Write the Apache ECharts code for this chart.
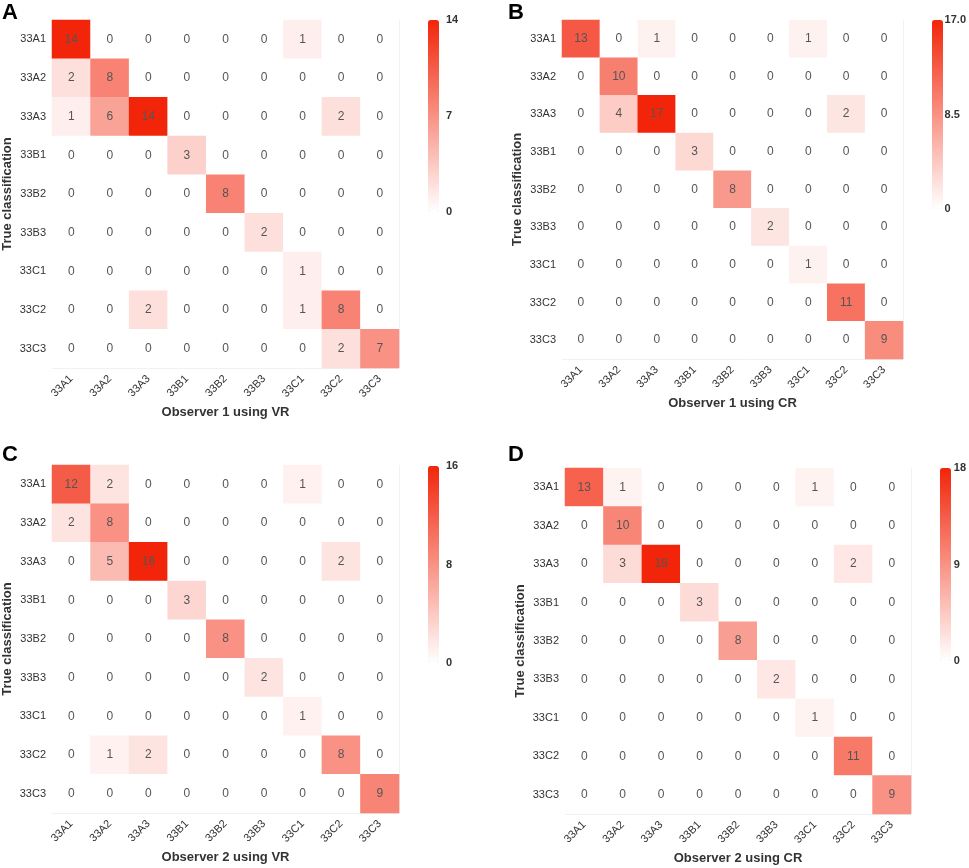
<!DOCTYPE html>
<html>
<head>
<meta charset="utf-8">
<script src="https://cdn.jsdelivr.net/npm/echarts@6/dist/echarts.min.js"></script>
<style>
  html, body { margin: 0; padding: 0; background: #fff; }
  #chart { width: 969px; height: 868px; }
</style>
</head>
<body>
<div id="chart"></div>
<script>
var classes = ['33A1', '33A2', '33A3', '33B1', '33B2', '33B3', '33C1', '33C2', '33C3'];

// rows = true classification, columns = observer
var obs1VR = [
  [14, 0, 0, 0, 0, 0, 1, 0, 0],
  [2, 8, 0, 0, 0, 0, 0, 0, 0],
  [1, 6, 14, 0, 0, 0, 0, 2, 0],
  [0, 0, 0, 3, 0, 0, 0, 0, 0],
  [0, 0, 0, 0, 8, 0, 0, 0, 0],
  [0, 0, 0, 0, 0, 2, 0, 0, 0],
  [0, 0, 0, 0, 0, 0, 1, 0, 0],
  [0, 0, 2, 0, 0, 0, 1, 8, 0],
  [0, 0, 0, 0, 0, 0, 0, 2, 7]
];
var obs1CR = [
  [13, 0, 1, 0, 0, 0, 1, 0, 0],
  [0, 10, 0, 0, 0, 0, 0, 0, 0],
  [0, 4, 17, 0, 0, 0, 0, 2, 0],
  [0, 0, 0, 3, 0, 0, 0, 0, 0],
  [0, 0, 0, 0, 8, 0, 0, 0, 0],
  [0, 0, 0, 0, 0, 2, 0, 0, 0],
  [0, 0, 0, 0, 0, 0, 1, 0, 0],
  [0, 0, 0, 0, 0, 0, 0, 11, 0],
  [0, 0, 0, 0, 0, 0, 0, 0, 9]
];
var obs2VR = [
  [12, 2, 0, 0, 0, 0, 1, 0, 0],
  [2, 8, 0, 0, 0, 0, 0, 0, 0],
  [0, 5, 16, 0, 0, 0, 0, 2, 0],
  [0, 0, 0, 3, 0, 0, 0, 0, 0],
  [0, 0, 0, 0, 8, 0, 0, 0, 0],
  [0, 0, 0, 0, 0, 2, 0, 0, 0],
  [0, 0, 0, 0, 0, 0, 1, 0, 0],
  [0, 1, 2, 0, 0, 0, 0, 8, 0],
  [0, 0, 0, 0, 0, 0, 0, 0, 9]
];
var obs2CR = [
  [13, 1, 0, 0, 0, 0, 1, 0, 0],
  [0, 10, 0, 0, 0, 0, 0, 0, 0],
  [0, 3, 18, 0, 0, 0, 0, 2, 0],
  [0, 0, 0, 3, 0, 0, 0, 0, 0],
  [0, 0, 0, 0, 8, 0, 0, 0, 0],
  [0, 0, 0, 0, 0, 2, 0, 0, 0],
  [0, 0, 0, 0, 0, 0, 1, 0, 0],
  [0, 0, 0, 0, 0, 0, 0, 11, 0],
  [0, 0, 0, 0, 0, 0, 0, 0, 9]
];

var letters = ['A', 'B', 'C', 'D'];
var xTitles = ['Observer 1 using VR', 'Observer 1 using CR', 'Observer 2 using VR', 'Observer 2 using CR'];
var scaleMax = [14, 17, 16, 18];
var scaleTicks = [['0', '7', '14'], ['0', '8.5', '17.0'], ['0', '8', '16'], ['0', '9', '18']];
var matrices = [obs1VR, obs1CR, obs2VR, obs2CR];

// layout of each panel: heatmap grid, colour bar, letter
var panels = [
  { grid: [52, 20, 347, 348], bar: [428, 20, 11, 192], letter: [2, 2] },
  { grid: [562, 20, 341, 339], bar: [932, 20, 11, 189], letter: [508, 2] },
  { grid: [52, 465, 347, 348], bar: [428, 466, 11, 197], letter: [2, 444] },
  { grid: [565, 468, 346, 346], bar: [940, 468, 11, 193], letter: [508, 444] }
];

var FONT = '"Liberation Sans", Arial, sans-serif';
var HIGH = '#F2250A';

var option = {
  animation: false,
  backgroundColor: '#fff',
  textStyle: { fontFamily: FONT },
  title: [], grid: [], xAxis: [], yAxis: [], visualMap: [], series: []
};

panels.forEach(function (p, i) {
  var data = [];
  matrices[i].forEach(function (row, r) {
    row.forEach(function (v, c) { data.push([c, r, v]); });
  });

  option.title.push({
    text: letters[i], left: p.letter[0], top: p.letter[1], padding: 0,
    textStyle: { fontSize: 22, fontWeight: 'bold', color: '#000', fontFamily: FONT }
  });

  // heatmap grid
  option.grid.push({ left: p.grid[0], top: p.grid[1], width: p.grid[2], height: p.grid[3] });
  option.xAxis.push({
    type: 'category', gridIndex: 2 * i, data: classes,
    name: xTitles[i], nameLocation: 'middle', nameGap: 38,
    nameTextStyle: { fontSize: 13, fontWeight: 'bold', color: '#333' },
    axisLine: { show: false }, axisTick: { show: false },
    axisLabel: { rotate: 45, fontSize: 11, color: '#333', margin: 9 },
    splitLine: { show: true, lineStyle: { color: '#eeeeee' } }
  });
  option.yAxis.push({
    type: 'category', gridIndex: 2 * i, data: classes, inverse: true,
    name: 'True classification', nameLocation: 'middle', nameGap: 38,
    nameTextStyle: { fontSize: 13, fontWeight: 'bold', color: '#333' },
    axisLine: { show: false }, axisTick: { show: false },
    axisLabel: { fontSize: 11, color: '#333', margin: 6 },
    splitLine: { show: true, lineStyle: { color: '#eeeeee' } }
  });

  // colour bar labels
  option.grid.push({ left: p.bar[0], top: p.bar[1], width: p.bar[2], height: p.bar[3] });
  option.xAxis.push({ type: 'value', gridIndex: 2 * i + 1, show: false });
  option.yAxis.push({
    type: 'value', gridIndex: 2 * i + 1, position: 'right',
    min: 0, max: scaleMax[i], interval: scaleMax[i] / 2,
    axisLine: { show: false }, axisTick: { show: false }, splitLine: { show: false },
    axisLabel: {
      fontSize: 11, fontWeight: 'bold', color: '#333', margin: 7,
      formatter: function (v) { return scaleTicks[i][Math.round(v / (scaleMax[i] / 2))]; }
    }
  });

  option.visualMap.push({
    type: 'continuous', seriesIndex: i, min: 0, max: scaleMax[i],
    left: p.bar[0], top: p.bar[1], itemWidth: p.bar[2], itemHeight: p.bar[3],
    padding: 0, text: null, showLabel: false, calculable: false, hoverLink: false,
    inRange: { color: ['#ffffff', HIGH] }
  });

  option.series.push({
    type: 'heatmap', xAxisIndex: 2 * i, yAxisIndex: 2 * i, data: data,
    label: { show: true, fontSize: 12, color: '#555' },
    emphasis: { disabled: true }
  });
});

var chart = echarts.init(document.getElementById('chart'));
chart.setOption(option);
</script>
</body>
</html>
